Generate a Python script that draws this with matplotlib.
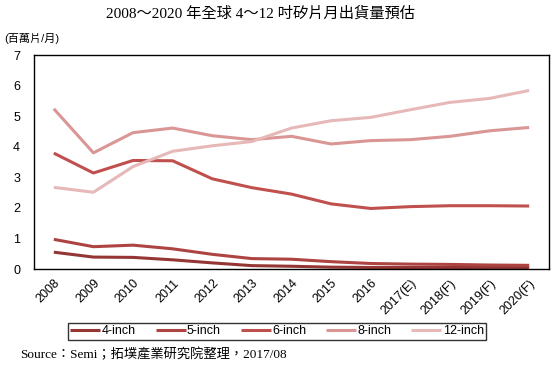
import matplotlib.pyplot as plt
import numpy as np

years = ['2008', '2009', '2010', '2011', '2012', '2013', '2014', '2015', '2016',
         '2017(E)', '2018(F)', '2019(F)', '2020(F)']

inch4 = [0.55, 0.39, 0.38, 0.30, 0.20, 0.11, 0.09, 0.06, 0.05, 0.05, 0.05, 0.05, 0.05]
inch5 = [0.97, 0.73, 0.78, 0.66, 0.48, 0.34, 0.32, 0.24, 0.18, 0.16, 0.15, 0.13, 0.12]
inch6 = [3.79, 3.14, 3.55, 3.54, 2.95, 2.66, 2.45, 2.13, 1.98, 2.04, 2.07, 2.07, 2.06]
inch8 = [5.24, 3.80, 4.46, 4.61, 4.36, 4.23, 4.34, 4.09, 4.20, 4.23, 4.34, 4.52, 4.63]
inch12 = [2.67, 2.51, 3.35, 3.85, 4.03, 4.17, 4.61, 4.85, 4.96, 5.21, 5.45, 5.58, 5.84]

series = [('4-inch', inch4, '#943634'),
          ('5-inch', inch5, '#AD4441'),
          ('6-inch', inch6, '#C0504D'),
          ('8-inch', inch8, '#D99694'),
          ('12-inch', inch12, '#E6B9B8')]

plt.rcParams['font.family'] = ['Liberation Sans', 'Noto Sans CJK TC']

fig = plt.figure(figsize=(5.54, 3.67), dpi=100)
ax = fig.add_axes([34 / 554, 98 / 367, 515 / 554, 214 / 367])

x = np.arange(len(years))
for name, vals, col in series:
    ax.plot(x, vals, color=col, lw=2.2, label=name, solid_capstyle='butt')

ax.set_xlim(-0.5, len(years) - 0.5)
ax.set_ylim(0, 7)
ax.set_yticks(range(0, 8))
ax.set_xticks(x)
ax.set_xticklabels(years, rotation=45, ha='right', rotation_mode='anchor')
ax.tick_params(axis='both', length=0, labelsize=9, pad=6)
ax.tick_params(axis='y', pad=10)
for s in ax.spines.values():
    s.set_color('black')
    s.set_linewidth(1.0)

fig.text(260 / 554, 1 - 14 / 367, '2008～2020 年全球 4～12 吋矽片月出貨量預估', ha='center', va='center',
         fontsize=11, family=['Liberation Serif', 'Noto Sans CJK TC'])
fig.text(4 / 554, 1 - 38 / 367, '(百萬片/月)', ha='left', va='center', fontsize=8)
fig.text(20 / 554, 1 - 355 / 367, 'Source：Semi；拓墣產業研究院整理，2017/08', ha='left', va='center',
         fontsize=9.5, family=['Liberation Serif', 'Noto Sans CJK TC'])

leg = fig.legend(loc='center', bbox_to_anchor=(277 / 554, 1 - 331 / 367), ncol=5, fontsize=9,
                 frameon=True, fancybox=False, handlelength=2.4, handletextpad=0.1,
                 columnspacing=1.6, borderpad=0.2)
leg.get_frame().set_edgecolor('black')
leg.get_frame().set_linewidth(1.0)

fig.savefig('out.png', dpi=100)
